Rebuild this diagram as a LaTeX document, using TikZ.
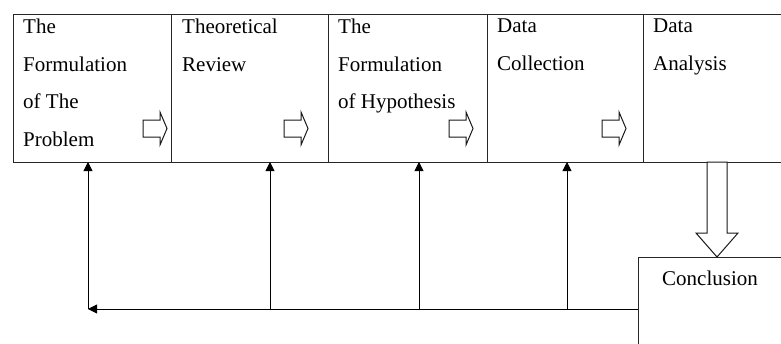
\documentclass[tikz,border=0pt]{standalone}
\usepackage{fontspec}
\setmainfont{Liberation Serif}
\usetikzlibrary{arrows.meta, positioning}
\tikzset{
  stage/.style   ={draw=black!85, rectangle, minimum height=148pt, inner sep=0pt, outer sep=0pt, line width=1pt},
  stagetxt/.style={anchor=north west, inner sep=0pt, align=left, font=\fontsize{21}{37.5}\selectfont},
  fb/.style      ={-{Triangle[length=9pt, width=9pt]}, line width=0.85pt},
  hollow/.style  ={draw=black!90, line width=1pt, fill=white, line join=miter},
  nextstep/.pic  ={\draw[hollow] (-24,-8.5) -- (-7,-8.5) -- (-7,-16.5) -- (0,0)
                    -- (-7,16.5) -- (-7,8.5) -- (-24,8.5) -- cycle;},
}

\begin{document}
\begin{tikzpicture}[x=1pt, y=-1pt]
  \useasboundingbox (0,0) rectangle (781,343);
  \clip (0,0) rectangle (781,343);

  % the five stages
  \node[stage, minimum width=158pt, anchor=north west] (prob) at (13,14) {};
  \node[stage, minimum width=157pt, right=0pt of prob]     (review)   {};
  \node[stage, minimum width=159pt, right=0pt of review]   (hypo)     {};
  \node[stage, minimum width=156pt, right=0pt of hypo]     (collect)  {};
  \node[stage, minimum width=160pt, right=0pt of collect]  (analysis) {};
  \node[stage, minimum width=160pt, minimum height=120pt, anchor=north west] (concl) at (638,257) {};

  \node[stagetxt, below right=5pt and 10pt of prob.north west]     (probtxt)   {The\\Formulation\\of The\\Problem};
  \node[stagetxt, below right=5pt and 11pt of review.north west]   (reviewtxt) {Theoretical\\Review};
  \node[stagetxt, below right=5pt and 10pt of hypo.north west]     (hypotxt)   {The\\Formulation\\of Hypothesis};
  \node[stagetxt, below right=5pt and 10pt of collect.north west]  (colltxt)   {Data\\Collection};
  \node[stagetxt, below right=5pt and 10pt of analysis.north west] (anatxt)    {Data\\Analysis};
  \node[stagetxt, below right=14pt and 24pt of concl.north west]   (conctxt)   {Conclusion};

  % hollow arrows between the stages
  \pic at ([shift={(-4,-33.5)}]prob.south east)    {nextstep};
  \pic at ([shift={(-20,-33.5)}]review.south east) {nextstep};
  \pic at ([shift={(-14,-33.5)}]hypo.south east)   {nextstep};
  \pic at ([shift={(-17,-33.5)}]collect.south east) {nextstep};

  % analysis down to conclusion
  \draw[hollow] ([xshift=69]concl.north west |- analysis.south) -- ([shift={(69,-24)}]concl.north west)
    -- ([shift={(58,-24)}]concl.north west) -- ([xshift=79]concl.north west)
    -- ([shift={(100,-24)}]concl.north west) -- ([shift={(89,-24)}]concl.north west)
    -- ([xshift=89]concl.north west |- analysis.south) -- cycle;

  % feedback lines
  \coordinate (c1) at (88,309);
  \coordinate (c2) at (270,309);
  \coordinate (c3) at (419,309);
  \coordinate (c4) at (567,309);
  \draw[fb] (concl.west |- c1) -- (c1);
  \draw[fb] (c1) -- (c1 |- prob.south);
  \draw[fb] (c2) -- (c2 |- review.south);
  \draw[fb] (c3) -- (c3 |- hypo.south);
  \draw[fb] (c4) -- (c4 |- collect.south);
\end{tikzpicture}
\end{document}
